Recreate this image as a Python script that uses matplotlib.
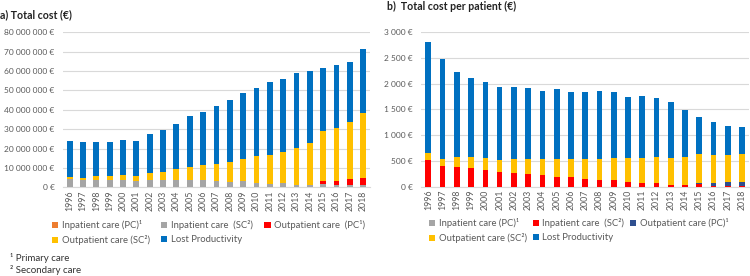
import numpy as np
import matplotlib.pyplot as plt
from matplotlib.ticker import FuncFormatter, MultipleLocator

plt.rcParams['font.family'] = ['Lato', 'DejaVu Sans']

years = [str(y) for y in range(1996, 2019)]

# a) total cost, million €
inpat_pc_a = [0.0] * 23
inpat_sc_a = [4.4, 3.9, 4.0, 3.9, 3.9, 3.5, 3.9, 3.9, 3.9, 3.9, 3.9, 3.2,
              3.0, 3.4, 2.3, 2.0, 2.1, 1.5, 1.5, 1.9, 1.4, 1.3, 1.5]
outpat_pc_a = [0.0] * 19 + [1.5, 2.1, 2.9, 3.5]
outpat_sc_a = [1.0, 1.2, 2.1, 2.2, 2.7, 2.6, 3.6, 4.3, 5.6, 6.7, 7.7, 8.8,
               10.0, 11.3, 14.1, 14.8, 16.4, 19.0, 21.6, 25.7, 27.3, 29.4, 33.6]
lost_a = [18.6, 18.2, 17.2, 17.2, 18.0, 17.9, 19.9, 21.6, 23.2, 26.4, 27.5, 29.8,
          32.1, 34.2, 34.7, 37.4, 37.3, 38.5, 37.1, 32.7, 32.3, 31.2, 32.6]

# b) total cost per patient, €
inpat_pc_b = [0] * 23
inpat_sc_b = [518, 407, 388, 369, 330, 284, 265, 252, 232, 193, 181, 142,
              129, 129, 90, 64, 64, 37, 37, 45, 18, 18, 18]
outpat_pc_b = [0] * 19 + [31, 46, 66, 66]
outpat_sc_b = [131, 131, 194, 202, 221, 234, 267, 280, 312, 345, 363, 388,
               403, 422, 473, 499, 507, 526, 534, 553, 546, 526, 545]
lost_b = [2162, 1948, 1650, 1531, 1481, 1409, 1395, 1382, 1312, 1350, 1299, 1300,
          1330, 1292, 1188, 1202, 1155, 1079, 921, 733, 642, 570, 538]

labels_a = ['Inpatient care (PC)\u00b9', 'Inpatient care  (SC\u00b2)',
            'Outpatient care  (PC\u00b9)', 'Outpatient care (SC\u00b2)', 'Lost Productivity']
labels_b = ['Inpatient care (PC)\u00b9', 'Inpatient care  (SC\u00b2)',
            'Outpatient care (PC)\u00b9', 'Outpatient care (SC\u00b2)', 'Lost Productivity']
colors_a = ['#ED7D31', '#A5A5A5', '#FF0000', '#FFC000', '#0070C0']
colors_b = ['#A5A5A5', '#FF0000', '#2F4F8F', '#FFC000', '#0070C0']

txt = '#595959'


def euro(v, pos):
    return f"{v:,.0f}".replace(",", " ") + " \u20ac"


def stacked(ax, series, colors, labels, width):
    x = np.arange(len(years))
    bottom = np.zeros(len(years))
    handles = []
    for vals, c, lab in zip(series, colors, labels):
        vals = np.asarray(vals, dtype=float)
        h = ax.bar(x, vals, width, bottom=bottom, color=c, label=lab, zorder=3)
        handles.append(h)
        bottom += vals
    ax.set_xlim(-0.5, len(years) - 0.5)
    ax.set_xticks(x)
    ax.set_xticklabels(years, rotation=90, fontsize=6.3, color=txt)
    ax.tick_params(axis='both', length=0, pad=2)
    ax.tick_params(axis='y', labelsize=6, labelcolor=txt, pad=6)
    ax.yaxis.set_major_formatter(FuncFormatter(euro))
    ax.grid(axis='y', color='#D9D9D9', linewidth=0.8, zorder=0)
    for s in ['top', 'right', 'left']:
        ax.spines[s].set_visible(False)
    ax.spines['bottom'].set_color('#D9D9D9')
    return handles


fig = plt.figure(figsize=(7.5, 2.76), dpi=100)

ax1 = fig.add_axes([0.084, 0.3207, 0.409, 0.5623])
h1 = stacked(ax1, [np.array(v) * 1e6 for v in
                   [inpat_pc_a, inpat_sc_a, outpat_pc_a, outpat_sc_a, lost_a]],
             colors_a, labels_a, 0.43)
ax1.set_ylim(0, 80e6)
ax1.yaxis.set_major_locator(MultipleLocator(10e6))

ax2 = fig.add_axes([0.5616, 0.324, 0.4373, 0.559])
h2 = stacked(ax2, [inpat_pc_b, inpat_sc_b, outpat_pc_b, outpat_sc_b, lost_b],
             colors_b, labels_b, 0.4)
ax2.set_ylim(0, 3000)
ax2.yaxis.set_major_locator(MultipleLocator(500))

fig.text(0.0, 1 - 15 / 276, 'a) Total cost (\u20ac)', fontsize=7.6,
         fontweight='bold', va='center', ha='left', color='#222222')
fig.text(387 / 750, 1 - 6 / 276, 'b)  Total cost per patient (\u20ac)', fontsize=7.6,
         fontweight='bold', va='center', ha='left', color='#222222')

order = [0, 3, 1, 4, 2]
for ax, hs, labs, x0, y0, cs in [(ax1, h1, labels_a, 52, 220, 1.2),
                                 (ax2, h2, labels_b, 429, 218, 0.6)]:
    fig.legend([hs[i] for i in order], [labs[i] for i in order], ncol=3,
               loc='upper left', bbox_to_anchor=(x0 / 750, 1 - y0 / 276),
               frameon=False, fontsize=6.8, labelcolor=txt,
               handlelength=0.65, handleheight=0.65, handletextpad=0.4,
               columnspacing=cs, borderaxespad=0, borderpad=0, labelspacing=0.55)

fig.text(10 / 750, 1 - 258 / 276, '\u00b9 Primary care', fontsize=7,
         va='center', ha='left', color='#333333')
fig.text(10 / 750, 1 - 270 / 276, '\u00b2 Secondary care', fontsize=7,
         va='center', ha='left', color='#333333')

fig.savefig('out.png', dpi=100)
